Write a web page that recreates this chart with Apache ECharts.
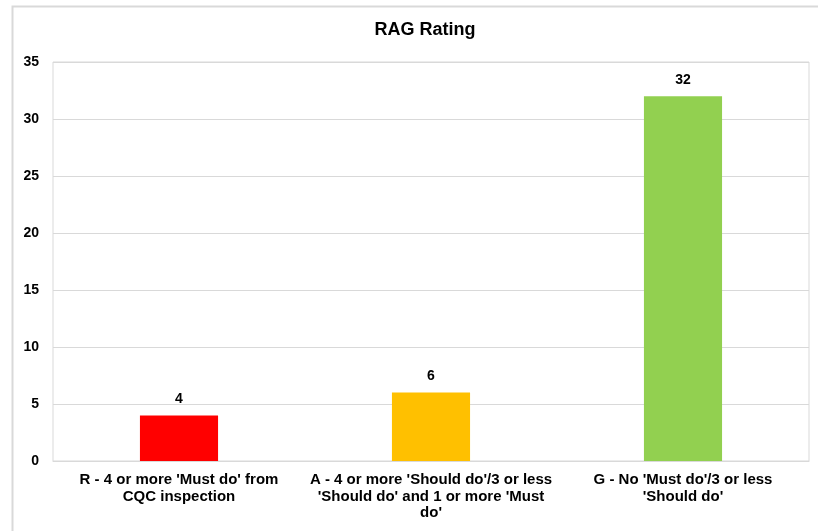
<!DOCTYPE html>
<html>
<head>
<meta charset="utf-8">
<script src="https://cdn.jsdelivr.net/npm/echarts@6/dist/echarts.min.js"></script>
<style>html,body{margin:0;padding:0;background:#fff;}#c{width:818px;height:531px;}</style>
</head>
<body>
<div id="c"></div>
<script>
const categories = [
  "R - 4 or more 'Must do' from\nCQC inspection",
  "A - 4 or more 'Should do'/3 or less\n'Should do' and 1 or more 'Must\ndo'",
  "G - No 'Must do'/3 or less\n'Should do'"
];
const values = [4, 6, 32];
const barColors = ['#FF0000', '#FFC000', '#92D050'];
const yTicks = { min: 0, max: 35, interval: 5 };

const font = 'Liberation Sans, Arial, sans-serif';
const chart = echarts.init(document.getElementById('c'), null, { renderer: 'canvas' });
chart.setOption({
  animation: false,
  backgroundColor: '#fff',
  graphic: [{
    type: 'rect', left: 10, top: 4,
    shape: { width: 830, height: 560 },
    style: { fill: 'none', stroke: '#d9d9d9', lineWidth: 2 }, silent: true
  }],
  title: {
    text: 'RAG Rating', left: 420, top: 16, textAlign: 'center',
    textStyle: { fontFamily: font, fontSize: 18, fontWeight: 'bold', color: '#000' }
  },
  grid: { left: 53, right: 9, top: 62, bottom: 70, show: true, borderColor: '#d9d9d9', borderWidth: 1 },
  xAxis: {
    type: 'category', data: categories,
    axisLine: { show: true, lineStyle: { color: '#d9d9d9' } },
    axisTick: { show: false },
    axisLabel: { fontFamily: font, fontSize: 15, fontWeight: 'bold', color: '#000', margin: 11, lineHeight: 16.5, interval: 0 }
  },
  yAxis: {
    type: 'value', min: yTicks.min, max: yTicks.max, interval: yTicks.interval,
    axisLine: { show: false }, axisTick: { show: false },
    splitLine: { lineStyle: { color: '#d9d9d9' } },
    axisLabel: { fontFamily: font, fontSize: 14, fontWeight: 'bold', color: '#000', margin: 14 }
  },
  series: [{
    type: 'bar', barWidth: '31%',
    data: values.map((v, i) => ({ value: v, itemStyle: { color: barColors[i] } })),
    label: { show: true, position: 'top', distance: 9, fontFamily: font, fontSize: 14, fontWeight: 'bold', color: '#000' }
  }]
});
</script>
</body>
</html>
